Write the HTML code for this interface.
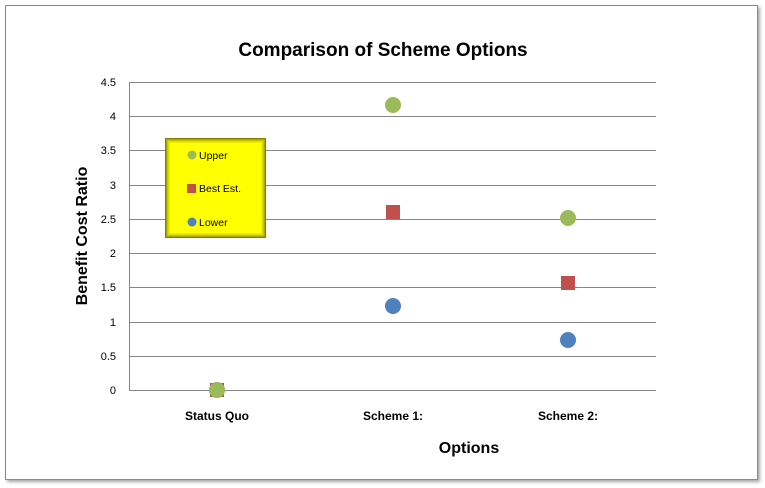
<!DOCTYPE html>
<html><head><style>body{margin:0;background:#fff}svg{display:block}</style></head><body>
<svg width="765" height="488" xmlns="http://www.w3.org/2000/svg" font-family="Liberation Sans, sans-serif">
<defs>
<filter id="s" x="-5%" y="-5%" width="115%" height="115%"><feDropShadow dx="2" dy="2" stdDeviation="1.5" flood-color="#000" flood-opacity="0.35"/></filter>
</defs>
<rect x="0" y="0" width="765" height="488" fill="#fff"/>
<rect x="5.5" y="5.5" width="752" height="474" fill="#fff" stroke="#888" filter="url(#s)"/>
<text x="383" y="56" text-anchor="middle" font-size="19" font-weight="bold" fill="#000">Comparison of Scheme Options</text>
<g stroke="#868686" stroke-width="1">
<line x1="129" y1="82.5" x2="656" y2="82.5"/>
<line x1="129" y1="116.5" x2="656" y2="116.5"/>
<line x1="129" y1="150.5" x2="656" y2="150.5"/>
<line x1="129" y1="185.5" x2="656" y2="185.5"/>
<line x1="129" y1="219.5" x2="656" y2="219.5"/>
<line x1="129" y1="253.5" x2="656" y2="253.5"/>
<line x1="129" y1="287.5" x2="656" y2="287.5"/>
<line x1="129" y1="322.5" x2="656" y2="322.5"/>
<line x1="129" y1="356.5" x2="656" y2="356.5"/>
<line x1="129" y1="390.5" x2="656" y2="390.5"/>
<line x1="129.5" y1="82" x2="129.5" y2="390"/>
</g>
<g font-size="11" fill="#000" text-anchor="end">
<text x="116" y="86">4.5</text><text x="116" y="120">4</text><text x="116" y="154">3.5</text>
<text x="116" y="189">3</text><text x="116" y="223">2.5</text><text x="116" y="257">2</text>
<text x="116" y="291">1.5</text><text x="116" y="326">1</text><text x="116" y="360">0.5</text>
<text x="116" y="394">0</text>
</g>
<text transform="translate(87,236) rotate(-90)" text-anchor="middle" font-size="16" font-weight="bold">Benefit Cost Ratio</text>
<g font-size="12" font-weight="bold" text-anchor="middle">
<text x="217" y="420">Status Quo</text><text x="393" y="420">Scheme 1:</text><text x="568" y="420">Scheme 2:</text>
</g>
<text x="469" y="453" text-anchor="middle" font-size="16" font-weight="bold">Options</text>
<rect x="165" y="138" width="101" height="100" fill="#ffff00"/>
<g fill="none" stroke="#706800">
<rect x="165.5" y="138.5" width="100" height="99" stroke-opacity="0.85"/>
<rect x="166.5" y="139.5" width="98" height="97" stroke-opacity="0.6"/>
<rect x="167.5" y="140.5" width="96" height="95" stroke-opacity="0.4"/>
<rect x="168.5" y="141.5" width="94" height="93" stroke-opacity="0.25"/>
<rect x="169.5" y="142.5" width="92" height="91" stroke-opacity="0.12"/>
</g>
<circle cx="192" cy="155" r="4.5" fill="#9bbb59"/><text x="199" y="159" font-size="10.5">Upper</text>
<rect x="187" y="184" width="9" height="9" fill="#c0504d"/><text x="199" y="192" font-size="10.5">Best Est.</text>
<circle cx="192" cy="222" r="4.5" fill="#4f81bd"/><text x="199" y="226" font-size="10.5">Lower</text>
<rect x="210" y="383" width="14" height="14" fill="#c0504d"/>
<circle cx="217" cy="390" r="8" fill="#4f81bd"/>
<circle cx="217" cy="390" r="8" fill="#9bbb59"/>
<circle cx="393" cy="105" r="8" fill="#9bbb59"/>
<rect x="386" y="205" width="14" height="14" fill="#c0504d"/>
<circle cx="393" cy="306" r="8" fill="#4f81bd"/>
<circle cx="568" cy="218" r="8" fill="#9bbb59"/>
<rect x="561" y="276" width="14" height="14" fill="#c0504d"/>
<circle cx="568" cy="340" r="8" fill="#4f81bd"/>
</svg>
</body></html>
